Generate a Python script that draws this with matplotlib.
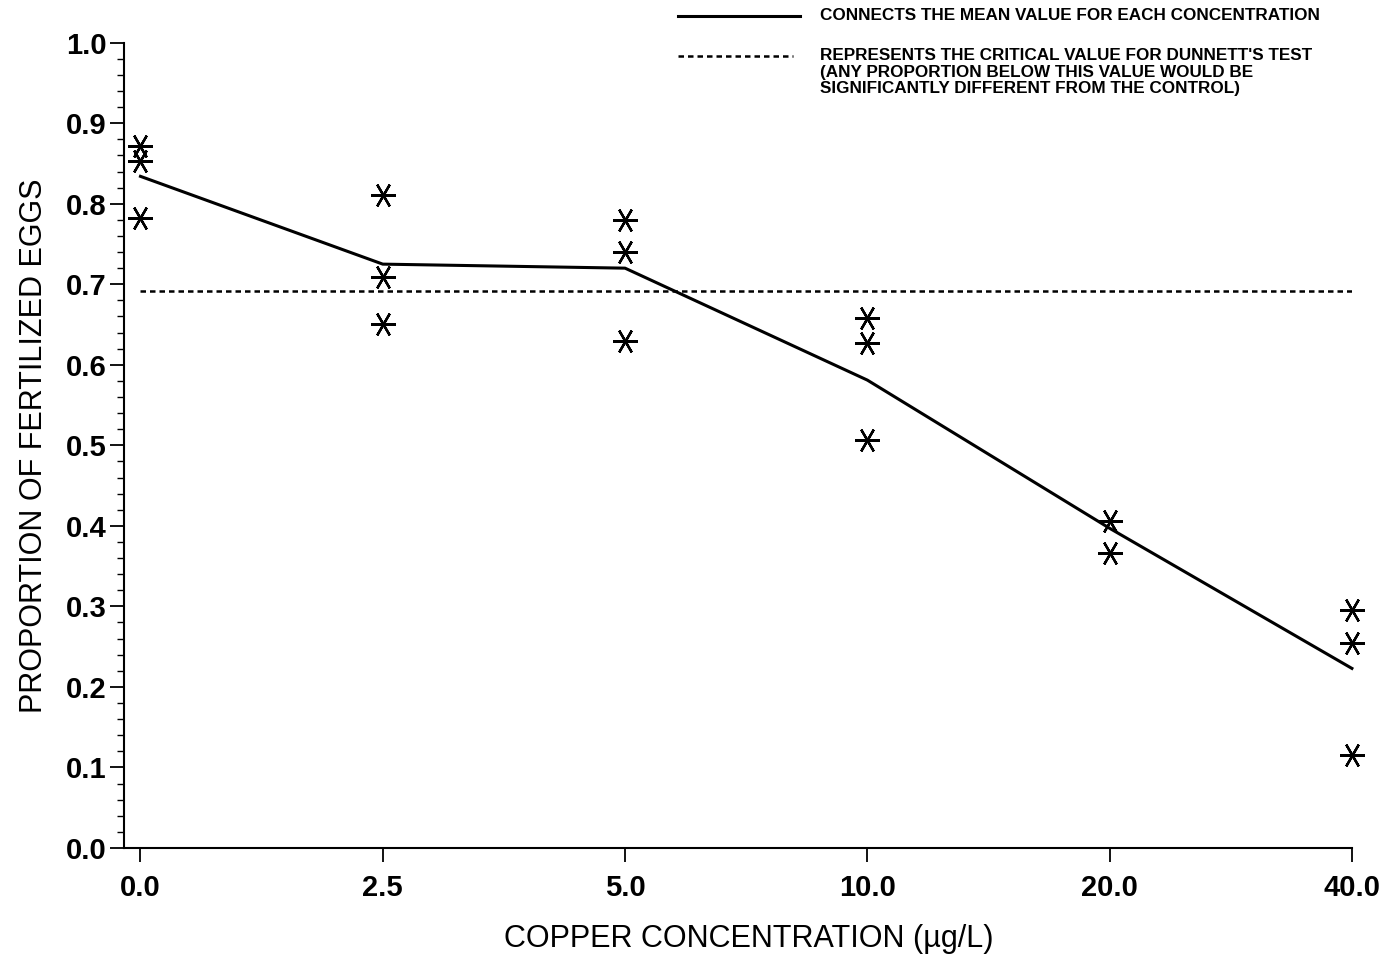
import numpy as np
import matplotlib.pyplot as plt
from matplotlib.lines import Line2D

conc_labels = ["0.0", "2.5", "5.0", "10.0", "20.0", "40.0"]

# individual replicate proportions per concentration
rep_vals = [
    [0.872, 0.853, 0.782],
    [0.811, 0.709, 0.651],
    [0.780, 0.740, 0.629],
    [0.658, 0.627, 0.507],
    [0.406, 0.366],
    [0.295, 0.255, 0.115],
]
mean_vals = [0.834, 0.725, 0.720, 0.581, 0.397, 0.223]
critical = 0.692

legend_solid = "CONNECTS THE MEAN VALUE FOR EACH CONCENTRATION"
legend_dotted = ["REPRESENTS THE CRITICAL VALUE FOR DUNNETT'S TEST",
                 "(ANY PROPORTION BELOW THIS VALUE WOULD BE",
                 "SIGNIFICANTLY DIFFERENT FROM THE CONTROL)"]

plt.rcParams['font.family'] = ['Liberation Sans', 'DejaVu Sans']

fig = plt.figure(figsize=(13.88, 9.61), dpi=100)
ax = fig.add_axes([0.089, 0.1176, 0.885, 0.838])

pos = np.arange(len(conc_labels))

# replicate points
for i, vals in enumerate(rep_vals):
    ax.plot([pos[i]] * len(vals), vals, linestyle="none", marker=(6, 2, 90),
            markersize=18, markeredgewidth=1.7, color="black", clip_on=False)

ax.plot(pos, mean_vals, color="black", lw=2.2, clip_on=False)
ax.hlines(critical, pos[0], pos[-1], colors="black", linestyles=(0, (2.2, 1.6)), lw=1.8)

ax.set_xlim(-0.07, pos[-1])
ax.set_ylim(0, 1.0)
ax.set_xticks(pos)
ax.set_xticklabels(conc_labels, fontsize=21, fontweight="bold")
ax.set_yticks(np.arange(0, 1.01, 0.1))
ax.set_yticklabels([f"{v:.1f}" for v in np.arange(0, 1.01, 0.1)], fontsize=21, fontweight="bold")
ax.set_yticks(np.arange(0, 1.001, 0.02), minor=True)
ax.tick_params(axis="y", which="major", length=10, width=1.3, pad=2)
ax.tick_params(axis="y", which="minor", length=5, width=1.0)
ax.tick_params(axis="x", which="major", length=10, width=1.3, pad=9)

for s in ["top", "right"]:
    ax.spines[s].set_visible(False)
ax.spines["left"].set_linewidth(1.5)
ax.spines["bottom"].set_linewidth(1.5)

ax.set_xlabel("COPPER CONCENTRATION (µg/L)", fontsize=22)
ax.xaxis.set_label_coords(0.509, -0.095)
ax.set_ylabel("PROPORTION OF FERTILIZED EGGS", fontsize=22, labelpad=12)

# legend drawn at top right
W, H = 1388, 961
fig.add_artist(Line2D([678 / W, 800 / W], [1 - 16 / H, 1 - 16 / H], color="black", lw=2.2))
fig.add_artist(Line2D([678 / W, 793 / W], [1 - 56 / H, 1 - 56 / H], color="black", lw=1.8,
                      linestyle=(0, (2.2, 1.6))))
fig.text(820 / W, 1 - 16 / H, legend_solid, fontsize=12.3, fontweight="bold",
         va="center", ha="left")
for k, line in enumerate(legend_dotted):
    fig.text(820 / W, 1 - (55 + 17 * k) / H, line, fontsize=12.3, fontweight="bold",
             va="center", ha="left")

fig.savefig("out.png", dpi=100)
